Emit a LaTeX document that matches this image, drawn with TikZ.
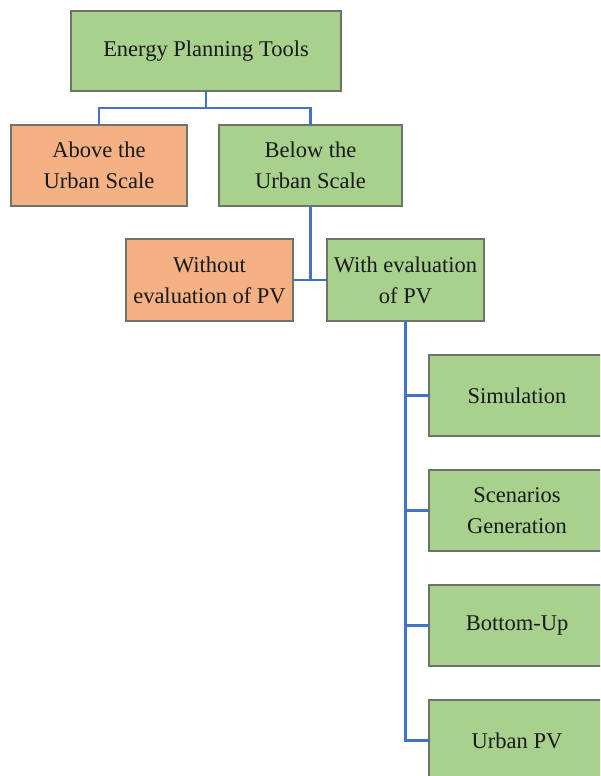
\documentclass[tikz,border=0pt]{standalone}
\usepackage{fontspec}
\setmainfont{Liberation Serif}
\definecolor{boxgreen}{HTML}{A9D18E}
\definecolor{boxorange}{HTML}{F4B183}
\definecolor{boxborder}{HTML}{6E7566}
\definecolor{linkblue}{HTML}{4472C4}
\tikzset{
  box/.style={draw=boxborder, line width=1.1pt, inner sep=2pt, outer sep=0pt, align=center,
    font=\fontsize{22.5}{31}\selectfont, text=black!90},
  gbox/.style={box, fill=boxgreen},
  obox/.style={box, fill=boxorange},
  link/.style={draw=linkblue, line width=2.3pt}
}
\begin{document}
\begin{tikzpicture}[x=1pt,y=-1pt]
\path[use as bounding box] (0,0) rectangle (600,776);
\clip (0,0) rectangle (600,776);
\node[gbox, minimum width=270pt, minimum height=80pt] (ept) at (206,51) {Energy Planning Tools};
\node[obox, minimum width=176pt, minimum height=81pt] (above) at (99,165.5) {Above the\\Urban Scale};
\node[gbox, minimum width=183pt, minimum height=81pt] (below) at (310.5,165.5) {Below the\\Urban Scale};
\node[obox, minimum width=167pt, minimum height=82pt] (without) at (209.5,280) {Without\\evaluation of PV};
\node[gbox, minimum width=157pt, minimum height=82pt] (with) at (405.5,280) {With evaluation\\of PV};
\node[gbox, minimum width=176pt, minimum height=81pt] (sim) at (517,395.5) {Simulation};
\node[gbox, minimum width=176pt, minimum height=81pt] (scen) at (517,510.5) {Scenarios\\Generation};
\node[gbox, minimum width=176pt, minimum height=81pt] (bup) at (517,625.5) {Bottom-Up};
\node[gbox, minimum width=176pt, minimum height=81pt] (upv) at (517,740.5) {Urban PV};
\coordinate (j1) at (206,108);
\draw[link] (ept.south) -- (j1);
\draw[link] (j1) -| (above.north);
\draw[link] (j1) -| (below.north);
\draw[link] (below.south) -- (below.south |- with.west);
\draw[link] (without.east) -- (with.west);
\draw[link] (with.south) |- (sim.west);
\draw[link] (with.south) |- (scen.west);
\draw[link] (with.south) |- (bup.west);
\draw[link] (with.south) |- (upv.west);
\end{tikzpicture}
\end{document}
